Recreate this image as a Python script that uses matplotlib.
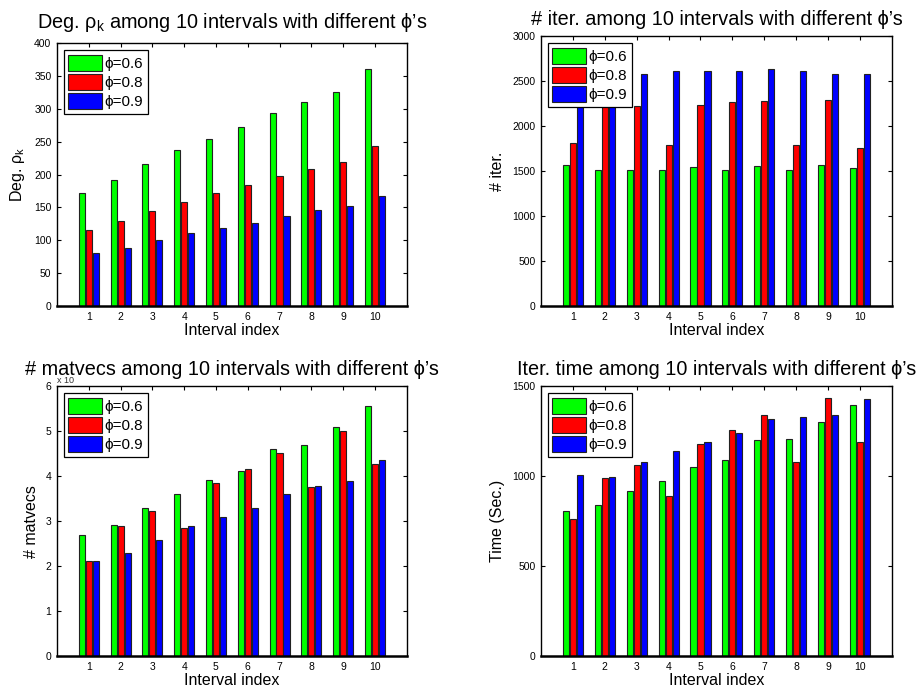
import matplotlib
matplotlib.use("Agg")
import matplotlib.pyplot as plt
import numpy as np

plt.rcParams['font.family'] = ['Liberation Sans', 'DejaVu Sans']
plt.rcParams['mathtext.fontset'] = 'custom'
plt.rcParams['mathtext.rm'] = 'Liberation Sans'
plt.rcParams['mathtext.it'] = 'Liberation Sans'

intervals = [1, 2, 3, 4, 5, 6, 7, 8, 9, 10]
phi_labels = ['ϕ=0.6', 'ϕ=0.8', 'ϕ=0.9']
colors = ['#00ff00', '#ff0000', '#0000ff']

deg_06 = [172, 192, 216, 237, 254, 272, 293, 311, 325, 360]
deg_08 = [116, 129, 145, 159, 172, 184, 198, 209, 219, 243]
deg_09 = [80, 89, 100, 111, 118, 126, 137, 146, 152, 168]

iter_06 = [1572, 1517, 1517, 1517, 1550, 1517, 1561, 1517, 1572, 1539]
iter_08 = [1816, 2238, 2227, 1787, 2238, 2264, 2283, 1787, 2290, 1757]
iter_09 = [2570, 2590, 2582, 2616, 2608, 2616, 2630, 2608, 2582, 2575]

matvec_06 = [2.70, 2.92, 3.28, 3.61, 3.92, 4.12, 4.61, 4.70, 5.10, 5.56]
matvec_08 = [2.11, 2.89, 3.23, 2.85, 3.84, 4.15, 4.52, 3.75, 5.01, 4.27]
matvec_09 = [2.12, 2.28, 2.59, 2.88, 3.08, 3.30, 3.61, 3.79, 3.90, 4.35]

time_06 = [808, 842, 920, 973, 1053, 1087, 1203, 1209, 1303, 1394]
time_08 = [760, 988, 1061, 892, 1181, 1259, 1342, 1081, 1437, 1187]
time_09 = [1009, 994, 1077, 1142, 1187, 1237, 1315, 1326, 1342, 1431]

panels = [
    dict(data=[deg_06, deg_08, deg_09], pos=[0.062, 0.5565, 0.380, 0.381],
         title="Deg. ρ$_\\mathrm{k}$ among 10 intervals with different ϕ’s", pad=11,
         ylabel="Deg. ρ$_\\mathrm{k}$", yticks=np.arange(0, 401, 50), ylim=(0, 400)),
    dict(data=[iter_06, iter_08, iter_09], pos=[0.588, 0.5565, 0.3815, 0.391],
         title="# iter. among 10 intervals with different ϕ’s", pad=8,
         ylabel="# iter.", yticks=np.arange(0, 3001, 500), ylim=(0, 3000)),
    dict(data=[matvec_06, matvec_08, matvec_09], pos=[0.062, 0.0493, 0.380, 0.391],
         title="# matvecs among 10 intervals with different ϕ’s", pad=8,
         ylabel="# matvecs", yticks=np.arange(0, 7, 1), ylim=(0, 6)),
    dict(data=[time_06, time_08, time_09], pos=[0.588, 0.0493, 0.3815, 0.391],
         title="Iter. time among 10 intervals with different ϕ’s", pad=8,
         ylabel="Time (Sec.)", yticks=np.arange(0, 1501, 500), ylim=(0, 1500)),
]

fig = plt.figure(figsize=(9.2, 6.9), dpi=100)
x = np.array(intervals)
offsets = [-0.22, 0.0, 0.22]
for i, p in enumerate(panels):
    ax = fig.add_axes(p['pos'])
    for vals, off, c, lab in zip(p['data'], offsets, colors, phi_labels):
        ax.bar(x + off, vals, width=0.19, color=c, edgecolor='#222222',
               linewidth=0.8, label=lab, zorder=2)
    ax.set_xlim(0, 11)
    ax.set_ylim(*p['ylim'])
    ax.set_xticks(x)
    ax.set_yticks(p['yticks'])
    ax.tick_params(direction='in', top=True, right=True, labelsize=7.5,
                   length=3, width=0.8, pad=4)
    for s in ax.spines.values():
        s.set_linewidth(1.0)
    ax.spines['bottom'].set_linewidth(1.8)
    ax.set_title(p['title'], fontsize=14.3, pad=p['pad'])
    ax.set_ylabel(p['ylabel'], fontsize=11.5, labelpad=5)
    ax.set_xlabel("Interval index", fontsize=11.5, labelpad=1)
    leg = ax.legend(loc='upper left', fontsize=11, handlelength=2.2,
                    handleheight=1.25, handletextpad=0.15, labelspacing=0.2,
                    borderpad=0.3, borderaxespad=0.45, fancybox=False,
                    framealpha=1, edgecolor='black')
    leg.get_frame().set_linewidth(0.9)
    if i == 2:
        ax.text(0.0, 1.003, "x 10", transform=ax.transAxes, fontsize=6.5,
                ha='left', va='bottom', color='#333333', zorder=0)

fig.savefig("out.png", dpi=100)
